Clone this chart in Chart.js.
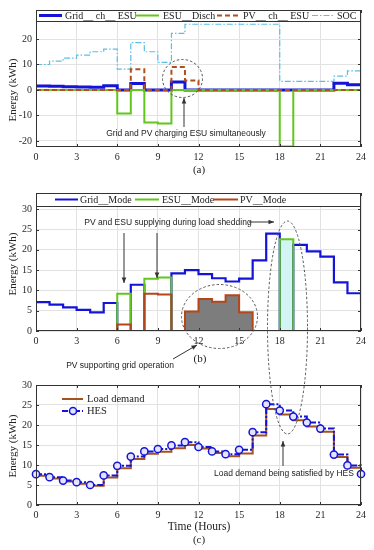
<!DOCTYPE html>
<html>
<head>
<meta charset="utf-8">
<script src="https://cdn.jsdelivr.net/npm/chart.js@4.4.1/dist/chart.umd.min.js"></script>
<style>
  html, body { margin: 0; padding: 0; background: #fff; }
  #wrap { position: relative; width: 374px; height: 550px; overflow: hidden; }
  canvas { position: absolute; left: 0; }
</style>
</head>
<body>
<div id="wrap">
  <canvas id="chart-a" width="374" height="178" style="top:0"></canvas>
  <canvas id="chart-b" width="374" height="200" style="top:175px"></canvas>
  <canvas id="chart-c" width="374" height="175" style="top:375px"></canvas>
  <canvas id="notes" width="374" height="550" style="top:0;pointer-events:none"></canvas>
</div>
<script>
// hourly steps, the value at 24 closes the last stair
const hours = [0,1,2,3,4,5,6,7,8,9,10,11,12,13,14,15,16,17,18,19,20,21,22,23,24];
const xTicks = [0,3,6,9,12,15,18,21,24];

// (a) ESU charge / discharge
const gridChEsu = [1.6,1.5,1.3,1.2,1.1,1.7,0,2.5,0,0,3.1,0,0,0,0,0,0,0,0,0,0,0,2.6,2.0,2.0];
const esuDisch  = [0,0,0,0,0,0,-9.2,0,-12.8,-13.2,0,0,0,0,0,0,0,0,-22.2,0,0,0,0,0,0];
const pvChEsu   = [0,0,0,0,0,0,0,8.1,0,0,9.0,3.7,0,0,0,0,0,0,0,0,0,0,0,0,0];
const soc       = [10,11.3,12.5,13.7,15,16,8.2,18.6,15,10.8,22.2,25.8,25.8,25.8,25.8,25.8,25.8,25.8,3.4,3.4,3.4,3.4,5.4,7.5,7.5];
const yTicksA = [-20,-10,0,10,20];

// (b) supply modes
const gridMode = [7.1,6.5,5.8,5.2,4.6,6.9,0,11.4,0,0,14.2,15.0,14.0,13.0,12.2,12.9,17.4,24.0,0,21.2,19.6,18.3,12.0,9.3,7.1];
const esuMode  = [0,0,0,0,0,0,9.2,0,12.9,13.2,0,0,0,0,0,0,0,0,22.6,0,0,0,0,0,0];
const pvMode   = [0,0,0,0,0,0,1.6,0,9.2,9.0,0,4.8,7.9,7.2,8.8,4.6,0,0,0,0,0,0,0,0,0];
const pvShadeHours = [11, 16];
const esuShadeHours = [18, 19];
const yTicksB = [0,5,10,15,20,25,30];

// (c) load vs HES
const loadDemand = [7.3,6.6,5.9,5.3,4.8,6.9,9.2,11.5,12.8,13.3,14.2,15.0,14.1,13.0,12.2,12.9,17.4,24.0,22.6,21.2,19.6,18.3,12.0,9.3,7.3];
const hes        = [7.7,6.95,6.1,5.7,5.0,7.4,9.8,12.1,13.4,14.0,14.9,15.7,14.5,13.4,12.7,13.8,18.2,25.2,23.6,22.1,20.6,19.1,12.6,9.9,7.75];
const yTicksC = [0,5,10,15,20,25,30];

const BLUE = '#1414d8';
const GREEN = '#62c61e';
const BROWN = '#b0501c';
const SOC_BLUE = '#5bbde8';
const SERIF = "'Liberation Serif', 'Times New Roman', serif";
const SANS = "'Liberation Sans', Arial, sans-serif";

function stairs(arr) {
  return hours.map((h, i) => ({ x: h, y: arr[i] }));
}
function shade(arr, range) {
  return hours.filter(h => h >= range[0] && h <= range[1]).map(h => ({ x: h, y: arr[h] }));
}

const framePlugin = {
  id: 'frame',
  afterDraw(chart) {
    const { ctx, chartArea: a, scales } = chart;
    ctx.save();
    ctx.strokeStyle = '#333';
    ctx.lineWidth = 1;
    ctx.beginPath();
    scales.x.ticks.forEach(t => {
      const px = Math.round(scales.x.getPixelForValue(t.value)) + 0.5;
      ctx.moveTo(px, a.bottom); ctx.lineTo(px, a.bottom - 3);
      ctx.moveTo(px, a.top); ctx.lineTo(px, a.top + 3);
    });
    scales.y.ticks.forEach(t => {
      const py = Math.round(scales.y.getPixelForValue(t.value)) + 0.5;
      ctx.moveTo(a.left, py); ctx.lineTo(a.left + 3, py);
      ctx.moveTo(a.right, py); ctx.lineTo(a.right - 3, py);
    });
    ctx.stroke();
    ctx.strokeRect(Math.round(a.left) + 0.5, Math.round(a.top) + 0.5,
                   Math.round(a.width) - 1, Math.round(a.height) - 1);
    ctx.restore();
  }
};

function options(yMin, yMax, yTicks, padTop, plotBottom, canvasH) {
  return {
    responsive: false,
    animation: false,
    devicePixelRatio: 1,
    layout: { padding: { top: padTop, right: 13, left: 0, bottom: 0 } },
    plugins: { legend: { display: false }, tooltip: { enabled: false } },
    elements: { point: { radius: 0 }, line: { borderJoinStyle: 'miter', borderCapStyle: 'butt' } },
    scales: {
      x: {
        type: 'linear', min: 0, max: 24,
        afterBuildTicks: s => { s.ticks = xTicks.map(v => ({ value: v })); },
        afterFit: s => { s.height = canvasH - plotBottom; },
        grid: { color: '#e2e2e2', drawTicks: false },
        border: { display: false },
        ticks: { autoSkip: false, maxRotation: 0, padding: 4, color: '#262626',
                 font: { family: SERIF, size: 10 } }
      },
      y: {
        min: yMin, max: yMax,
        afterBuildTicks: s => { s.ticks = yTicks.map(v => ({ value: v })); },
        afterFit: s => { s.width = 36; },
        grid: { color: '#e2e2e2', drawTicks: false },
        border: { display: false },
        ticks: { padding: 4, color: '#262626', font: { family: SERIF, size: 10 } }
      }
    }
  };
}

// (a)
new Chart(document.getElementById('chart-a'), {
  type: 'line',
  data: {
    datasets: [
      { label: 'Grid__ ch__ ESU', data: stairs(gridChEsu), stepped: true, borderColor: BLUE, borderWidth: 3, order: 3 },
      { label: 'ESU__Disch', data: stairs(esuDisch), stepped: true, borderColor: GREEN, borderWidth: 2, order: 2 },
      { label: 'PV__ ch__ ESU', data: stairs(pvChEsu), stepped: true, borderColor: BROWN, borderWidth: 2, borderDash: [5, 3], order: 0 },
      { label: 'SOC', data: stairs(soc), stepped: true, borderColor: SOC_BLUE, borderWidth: 1.2, borderDash: [6, 2, 1.5, 2], order: 1 }
    ]
  },
  options: options(-22.4, 31.4, yTicksA, 10, 147, 178),
  plugins: [framePlugin]
});

// (b)
new Chart(document.getElementById('chart-b'), {
  type: 'line',
  data: {
    datasets: [
      { label: 'Grid__Mode', data: stairs(gridMode), stepped: true, borderColor: BLUE, borderWidth: 2.2, order: 2 },
      { label: 'ESU__Mode', data: stairs(esuMode), stepped: true, borderColor: GREEN, borderWidth: 2, order: 1 },
      { label: 'PV__Mode', data: stairs(pvMode), stepped: true, borderColor: '#b4461c', borderWidth: 2, order: 0 },
      { data: shade(pvMode, pvShadeHours), stepped: true, borderWidth: 0, borderColor: 'rgba(0,0,0,0)',
        backgroundColor: '#7d7d7d', fill: 'origin', order: 5 },
      { data: shade(esuMode, esuShadeHours), stepped: true, borderWidth: 0, borderColor: 'rgba(0,0,0,0)',
        backgroundColor: '#d2f4f4', fill: 'origin', order: 6 }
    ]
  },
  options: options(0, 34, yTicksB, 18, 156, 200),
  plugins: [framePlugin]
});

// (c)
new Chart(document.getElementById('chart-c'), {
  type: 'line',
  data: {
    datasets: [
      { label: 'HES', data: stairs(hes), stepped: true, borderColor: BLUE, borderWidth: 2,
        borderDash: [6, 2, 2, 2], pointRadius: 3.6, pointBorderWidth: 1.5, pointBorderColor: BLUE,
        pointBackgroundColor: '#e4e4ff', clip: false, order: 0 },
      { label: 'Load demand', data: stairs(loadDemand), stepped: true, borderColor: '#a4521e', borderWidth: 2, order: 1 }
    ]
  },
  options: options(0, 30, yTicksC, 6, 130, 175),
  plugins: [framePlugin]
});

// annotations, legends and titles, page coordinates
const n = document.getElementById('notes').getContext('2d');

function text(s, x, y, font, align) {
  n.font = font;
  n.fillStyle = '#222';
  n.textAlign = align || 'center';
  n.textBaseline = 'middle';
  n.fillText(s, x, y);
}
function arrow(x1, y1, x2, y2) {
  n.save();
  n.strokeStyle = '#333'; n.fillStyle = '#333'; n.lineWidth = 1;
  n.beginPath(); n.moveTo(x1, y1); n.lineTo(x2, y2); n.stroke();
  const a = Math.atan2(y2 - y1, x2 - x1);
  n.beginPath();
  n.moveTo(x2, y2);
  n.lineTo(x2 - 6 * Math.cos(a - 0.4), y2 - 6 * Math.sin(a - 0.4));
  n.lineTo(x2 - 6 * Math.cos(a + 0.4), y2 - 6 * Math.sin(a + 0.4));
  n.closePath(); n.fill();
  n.restore();
}
function ring(cx, cy, rx, ry) {
  n.save();
  n.strokeStyle = '#555'; n.lineWidth = 1; n.setLineDash([2.5, 2]);
  n.beginPath(); n.ellipse(cx, cy, rx, ry, 0, 0, Math.PI * 2); n.stroke();
  n.restore();
}
function key(x1, x2, y, color, width, dash) {
  n.save();
  n.strokeStyle = color; n.lineWidth = width; n.setLineDash(dash || []);
  n.beginPath(); n.moveTo(x1, y); n.lineTo(x2, y); n.stroke();
  n.restore();
}
function legendBox(top, bottom) {
  n.save();
  n.fillStyle = '#fff';
  n.fillRect(36, top, 325, bottom - top);
  n.strokeStyle = '#333'; n.lineWidth = 1;
  n.strokeRect(36.5, top + 0.5, 324, bottom - top);
  n.restore();
}
const LEG = '10px ' + SERIF;

// legend (a)
legendBox(10, 21);
key(39, 62, 15.5, BLUE, 3); text('Grid__ ch__ ESU', 65, 16, LEG, 'left');
key(135, 159, 15.5, GREEN, 2); text('ESU__Disch', 163, 16, LEG, 'left');
key(217, 240, 15.5, BROWN, 2, [5, 3]); text('PV__ ch__ ESU', 243, 16, LEG, 'left');
key(312, 333, 15.5, SOC_BLUE, 1.2, [6, 2, 1.5, 2]); text('SOC', 337, 16, LEG, 'left');

// legend (b)
legendBox(193, 206);
key(55, 78, 199.5, BLUE, 2); text('Grid__Mode', 80, 200, LEG, 'left');
key(135, 159, 199.5, GREEN, 2); text('ESU__Mode', 162, 200, LEG, 'left');
key(213, 238, 199.5, '#b4461c', 2); text('PV__Mode', 240, 200, LEG, 'left');

// legend (c)
key(62, 83, 399, '#a4521e', 2); text('Load demand', 87, 399.5, '10.5px ' + SERIF, 'left');
key(62, 83, 411, BLUE, 2, [6, 2, 2, 2]);
n.save(); n.beginPath(); n.arc(73, 411, 3.5, 0, Math.PI * 2);
n.fillStyle = '#e4e4ff'; n.fill(); n.strokeStyle = BLUE; n.lineWidth = 1.5; n.stroke(); n.restore();
text('HES', 87, 411.5, '10.5px ' + SERIF, 'left');

// axis titles
const AX = '11px ' + SERIF;
[[90], [264], [446]].forEach(([cy]) => {
  n.save(); n.translate(13, cy); n.rotate(-Math.PI / 2);
  text('Energy (kWh)', 0, 0, AX); n.restore();
});
text('(a)', 199, 170, AX);
text('(b)', 200, 359, AX);
text('Time (Hours)', 199, 527, '11.5px ' + SERIF);
text('(c)', 199, 540, AX);

// notes (a)
const NOTE = '8.5px ' + SANS;
ring(182.5, 78.5, 20, 19);
arrow(184, 127, 184, 98);
text('Grid and PV charging ESU simultaneously', 186, 134, NOTE);

// notes (b)
text('PV and ESU supplying during load shedding', 168, 223, NOTE);
arrow(249, 222, 274, 222);
arrow(124, 233, 124, 283);
arrow(157, 233, 157, 278);
ring(219.5, 316.5, 38, 32);
ring(287.5, 327.5, 20, 106.5);
arrow(173, 359, 197, 345);
text('PV supporting grid operation', 120, 366, NOTE);

// notes (c)
arrow(283, 466, 283, 441);
text('Load demand being satisfied by HES', 284, 474, NOTE);
</script>
</body>
</html>
